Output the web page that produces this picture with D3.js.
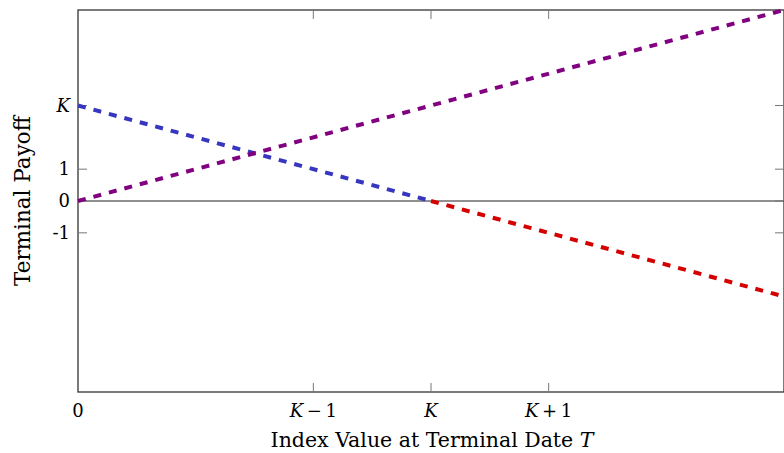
<!DOCTYPE html>
<html>
<head>
<meta charset="utf-8">
<script src="https://cdn.jsdelivr.net/npm/d3@7"></script>
<style>
body { margin: 0; background: #fff; }
text { font-family: "DejaVu Serif", serif; fill: #000; }
</style>
</head>
<body>
<div id="chart"></div>
<script>
var K = 3;
var xTicks = [0, K - 1, K, K + 1];
var xTickLabels = ["0", "K\u22121", "K", "K+1"];
var yTicks = [-1, 0, 1, K];
var yTickLabels = ["-1", "0", "1", "K"];
// lines as [x, y] pairs
var putLine = [[0, 3], [3, 0]];
var shortLine = [[3, 0], [6, -3]];
var longLine = [[0, 0], [6, 6]];

var width = 784, height = 453;
var margin = {left: 78, right: 0, top: 10, bottom: 61};

var svg = d3.select('#chart').append('svg')
	.attr('width', width)
	.attr('height', height);

var x = d3.scaleLinear().domain([0, 6]).range([margin.left, width - margin.right]);
var y = d3.scaleLinear().domain([-6, 6]).range([height - margin.bottom, margin.top]);

var tickLen = 9;

// frame
svg.append('rect')
	.attr('x', x(0)).attr('y', y(6))
	.attr('width', x(6) - x(0)).attr('height', y(-6) - y(6))
	.attr('fill', 'none').attr('stroke', '#333').attr('stroke-width', 1.3);

// zero line
svg.append('line')
	.attr('x1', x(0)).attr('x2', x(6))
	.attr('y1', y(0)).attr('y2', y(0))
	.attr('stroke', '#222').attr('stroke-width', 1.2);

// ticks (inward, both sides)
xTicks.forEach(function(t) {
	if (t === 0) return;
	svg.append('line').attr('x1', x(t)).attr('x2', x(t))
		.attr('y1', y(-6)).attr('y2', y(-6) - tickLen)
		.attr('stroke', '#777').attr('stroke-width', 1);
	svg.append('line').attr('x1', x(t)).attr('x2', x(t))
		.attr('y1', y(6)).attr('y2', y(6) + tickLen)
		.attr('stroke', '#777').attr('stroke-width', 1);
});
yTicks.forEach(function(t) {
	svg.append('line').attr('x1', x(0)).attr('x2', x(0) + tickLen)
		.attr('y1', y(t)).attr('y2', y(t))
		.attr('stroke', '#777').attr('stroke-width', 1);
	svg.append('line').attr('x1', x(6)).attr('x2', x(6) - tickLen)
		.attr('y1', y(t)).attr('y2', y(t))
		.attr('stroke', '#777').attr('stroke-width', 1);
});

// x tick labels
xTicks.forEach(function(t, i) {
	var txt = svg.append('text')
		.attr('x', x(t)).attr('y', y(-6) + 25)
		.attr('text-anchor', 'middle')
		.style('font-size', '18px');
	var lab = xTickLabels[i];
	if (lab.charAt(0) === 'K') {
		txt.append('tspan').style('font-style', 'italic').text('K');
		if (lab.length > 1) {
			txt.append('tspan').text(lab.charAt(1) === '+' ? '\u2009+\u20091' : '\u2009\u2212\u20091');
		}
	} else {
		txt.text(lab);
	}
});

// y tick labels
yTicks.forEach(function(t, i) {
	svg.append('text')
		.attr('x', x(0) - 8).attr('y', y(t) + 6)
		.attr('text-anchor', 'end')
		.style('font-size', '18px')
		.style('font-style', yTickLabels[i] === 'K' ? 'italic' : 'normal')
		.text(yTickLabels[i]);
});

// axis titles
var xt = svg.append('text')
	.attr('x', (x(0) + x(6)) / 2 + 1).attr('y', height - 6)
	.attr('text-anchor', 'middle')
	.style('font-size', '20.5px');
xt.append('tspan').text('Index Value at Terminal Date ');
xt.append('tspan').style('font-style', 'italic').text('T');

svg.append('text')
	.attr('transform', 'translate(30,' + y(0) + ') rotate(-90)')
	.attr('text-anchor', 'middle')
	.style('font-size', '21.5px')
	.text('Terminal Payoff');

var line = d3.line().x(function(d) { return x(d[0]); }).y(function(d) { return y(d[1]); });

function drawLine(data, color) {
	svg.append('path')
		.attr('d', line(data))
		.attr('fill', 'none')
		.attr('stroke', color)
		.attr('stroke-width', 4)
		.attr('stroke-dasharray', '8,8');
}

drawLine(putLine, '#3636bf');
drawLine(shortLine, '#d40000');
drawLine(longLine, '#800080');
</script>
</body>
</html>
